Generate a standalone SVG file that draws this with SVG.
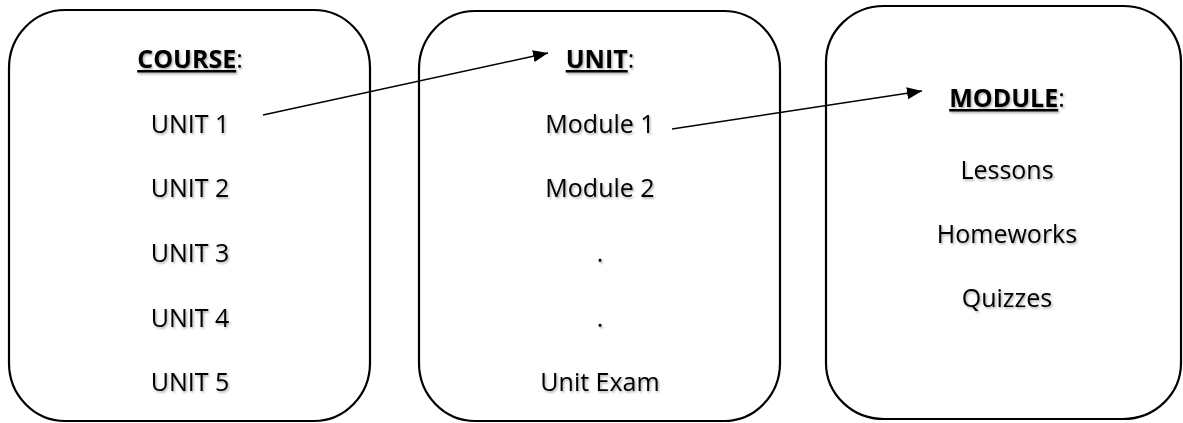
<svg xmlns="http://www.w3.org/2000/svg" width="1183" height="423" viewBox="0 0 1183 423">
  <defs>
    <filter id="shadow" x="-10%" y="-30%" width="120%" height="160%">
      <feDropShadow dx="1.2" dy="1.5" stdDeviation="0.9" flood-color="#000" flood-opacity="0.35"/>
    </filter>
    <marker id="arrow" markerUnits="userSpaceOnUse" markerWidth="16" markerHeight="13" refX="15" refY="6" orient="auto">
      <path d="M0,0 L15,6 L0,12 z" fill="#000"/>
    </marker>
  </defs>
  <style>
    .box { fill: #fff; stroke: #000; stroke-width: 2.2; }
    .t { font-family: "Open Sans", "Liberation Sans", sans-serif; font-size: 25px; fill: #000; text-anchor: middle; filter: url(#shadow); }
    .h { font-weight: bold; }
    .u { text-decoration: underline; }
    .conn { stroke: #000; stroke-width: 1.4; fill: none; marker-end: url(#arrow); }
  </style>
  <rect width="1183" height="423" fill="#fff"/>
  <g id="course">
    <rect class="box" x="9" y="10" width="361" height="411" rx="56" ry="58"/>
    <text class="t" x="190" y="68"><tspan class="h u">COURSE</tspan>:</text>
    <text class="t" x="190" y="133">UNIT 1</text>
    <text class="t" x="190" y="197">UNIT 2</text>
    <text class="t" x="190" y="262">UNIT 3</text>
    <text class="t" x="190" y="327">UNIT 4</text>
    <text class="t" x="190" y="391">UNIT 5</text>
  </g>
  <g id="unit">
    <rect class="box" x="419" y="11" width="361" height="410" rx="56" ry="58"/>
    <text class="t" x="600" y="68"><tspan class="h u">UNIT</tspan>:</text>
    <text class="t" x="600" y="133">Module 1</text>
    <text class="t" x="600" y="197">Module 2</text>
    <text class="t" x="600" y="262">.</text>
    <text class="t" x="600" y="327">.</text>
    <text class="t" x="600" y="391">Unit Exam</text>
  </g>
  <g id="module">
    <rect class="box" x="826" y="6" width="355" height="413" rx="58" ry="56"/>
    <text class="t" x="1007" y="107"><tspan class="h u">MODULE</tspan>:</text>
    <text class="t" x="1007" y="179">Lessons</text>
    <text class="t" x="1007" y="243">Homeworks</text>
    <text class="t" x="1007" y="307">Quizzes</text>
  </g>
  <g id="connectors">
    <line class="conn" x1="263" y1="115" x2="548" y2="53"/>
    <line class="conn" x1="672" y1="129" x2="922" y2="91"/>
  </g>
</svg>
